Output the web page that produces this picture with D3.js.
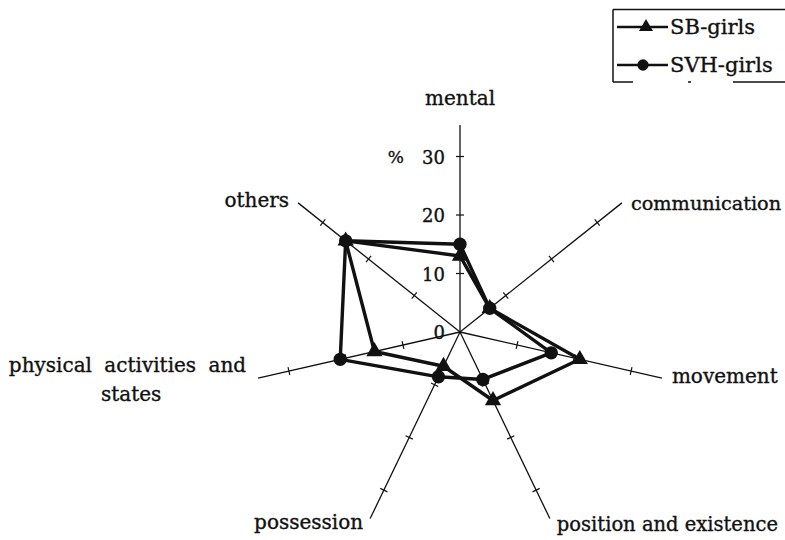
<!DOCTYPE html>
<html>
<head>
<meta charset="utf-8">
<script src="https://cdn.jsdelivr.net/npm/d3@7"></script>
<style>
  html, body { margin: 0; padding: 0; background: #fff; }
  svg text { font-family: "DejaVu Serif", "Liberation Serif", serif; fill: #111; stroke: #111; stroke-width: 0.35; }
</style>
</head>
<body>
<svg id="chart" width="785" height="540"></svg>
<script>
// Categories, clockwise from the top
const categories = ["mental", "communication", "movement", "position and existence",
                    "possession", "physical activities and states", "others"];
// Percentages per category
const sbGirls  = [13, 6.5, 21, 13, 6.5, 15, 25];
const svhGirls = [15, 6.5, 16, 9, 8.5, 21, 25];
const seriesNames = ["SB-girls", "SVH-girls"];
const tickValues = [10, 20, 30];
const tickLabels = ["0", "10", "20", "30"];

const svg = d3.select("#chart");
const cx = 460, cy = 332;
const axisMax = 35.4;
const r = d3.scaleLinear().domain([0, 10]).range([0, 58.5]);
const angle = d3.scalePoint().domain(categories).range([0, 2 * Math.PI * (1 - 1 / categories.length)]);

const g = svg.append("g").attr("transform", `translate(${cx},${cy})`);
const pt = (a, v) => [Math.sin(a) * r(v), -Math.cos(a) * r(v)];

// Axis spokes with cross ticks
categories.forEach(c => {
  const a = angle(c);
  const [x2, y2] = pt(a, axisMax);
  g.append("line").attr("x1", 0).attr("y1", 0).attr("x2", x2).attr("y2", y2)
    .attr("stroke", "#111").attr("stroke-width", 1.3);
  tickValues.forEach(t => {
    const [tx, ty] = pt(a, t);
    const px = Math.cos(a) * 4, py = Math.sin(a) * 4;
    g.append("line").attr("x1", tx - px).attr("y1", ty - py).attr("x2", tx + px).attr("y2", ty + py)
      .attr("stroke", "#111").attr("stroke-width", 1.2);
  });
});

// Value labels along the vertical axis
[0, ...tickValues].forEach((t, i) => {
  g.append("text").attr("x", -15).attr("y", -r(t) + 7).attr("text-anchor", "end")
    .attr("font-size", 18).text(tickLabels[i]);
});
g.append("text").attr("x", -56).attr("y", -r(30) + 6).attr("text-anchor", "end")
  .attr("font-size", 17).text("%");

// Category labels: offsets from each spoke's end
const labelLayout = [
  { dx: 0,   dy: -20, anchor: "middle", size: 20 },
  { dx: 9,   dy: 7,   anchor: "start",  size: 19.3 },
  { dx: 10,  dy: 5,   anchor: "start",  size: 20 },
  { dx: 7,   dy: 12,  anchor: "start",  size: 19.5 },
  { dx: -7,  dy: 10,  anchor: "end",    size: 20 },
  { dx: -12, dy: -6,  anchor: "end",    size: 20 },
  { dx: -9,  dy: 4,   anchor: "end",    size: 20 }
];
categories.forEach((c, i) => {
  const [ex, ey] = pt(angle(c), axisMax);
  const L = labelLayout[i];
  if (c === "physical activities and states") {
    g.append("text").attr("x", ex + L.dx).attr("y", ey + L.dy)
      .attr("text-anchor", "end").attr("font-size", L.size).attr("word-spacing", 6)
      .text("physical activities and");
    g.append("text").attr("x", ex + L.dx - 115).attr("y", ey + L.dy + 29)
      .attr("text-anchor", "middle").attr("font-size", L.size).text("states");
  } else {
    g.append("text").attr("x", ex + L.dx).attr("y", ey + L.dy)
      .attr("text-anchor", L.anchor).attr("font-size", L.size).text(c);
  }
});

// Data polygons
const radial = d3.lineRadial()
  .angle((d, i) => angle(categories[i]))
  .radius(d => r(d))
  .curve(d3.curveLinearClosed);

const series = [
  { name: seriesNames[0], values: sbGirls, symbol: d3.symbolTriangle, size: 115 },
  { name: seriesNames[1], values: svhGirls, symbol: d3.symbolCircle, size: 140 }
];

series.forEach(s => {
  g.append("path").attr("d", radial(s.values)).attr("fill", "none")
    .attr("stroke", "#111").attr("stroke-width", 3.4).attr("stroke-linejoin", "round");
});
series.forEach(s => {
  s.values.forEach((v, i) => {
    const [x, y] = pt(angle(categories[i]), v);
    g.append("path").attr("d", d3.symbol().type(s.symbol).size(s.size)())
      .attr("transform", `translate(${x},${y})`).attr("fill", "#111");
  });
});

// Legend
const leg = svg.append("g");
leg.append("line").attr("x1", 613).attr("y1", 9.5).attr("x2", 790).attr("y2", 9.5)
  .attr("stroke", "#111").attr("stroke-width", 1.5);
leg.append("line").attr("x1", 613).attr("y1", 9.5).attr("x2", 613).attr("y2", 82)
  .attr("stroke", "#111").attr("stroke-width", 1.5);
leg.append("line").attr("x1", 613).attr("y1", 82).attr("x2", 790).attr("y2", 82)
  .attr("stroke", "#111").attr("stroke-width", 1.5).attr("stroke-dasharray", "20,55,3,42,60");
series.forEach((s, i) => {
  const y = 27 + i * 38;
  leg.append("line").attr("x1", 617).attr("y1", y).attr("x2", 668).attr("y2", y)
    .attr("stroke", "#111").attr("stroke-width", 2.5);
  leg.append("path").attr("d", d3.symbol().type(s.symbol).size(i === 0 ? 85 : 100)())
    .attr("transform", `translate(${i === 0 ? 646 : 643},${y})`).attr("fill", "#111");
  leg.append("text").attr("x", 670).attr("y", y + 7).attr("font-size", 21).text(s.name);
});
</script>
</body>
</html>
